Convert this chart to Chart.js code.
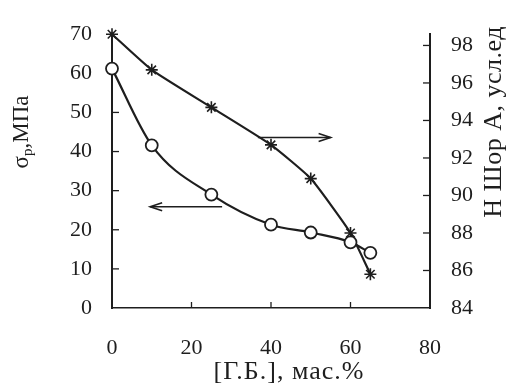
<!DOCTYPE html>
<html>
<head>
<meta charset="utf-8">
<script src="https://cdn.jsdelivr.net/npm/chart.js@4/dist/chart.umd.min.js"></script>
<style>
html, body { margin: 0; background: #fff; }
#wrap { width: 508px; height: 391px; }
</style>
</head>
<body>
<div id="wrap"><canvas id="myChart"></canvas></div>
<script>
// содержание Г.Б., мас.%
const gb = [0, 10, 25, 40, 50, 60, 65]
// прочность σр, МПа (левая ось)
const sigma = [61.2, 41.6, 29, 21.3, 19.3, 16.8, 14.1]
// твердость по Шору А (правая ось)
const shore = [98.6, 96.7, 94.7, 92.7, 90.9, 88.0, 85.8]

const xTicks = [0, 20, 40, 60, 80]
const leftTicks = [0, 10, 20, 30, 40, 50, 60, 70]
const rightTicks = [84, 86, 88, 90, 92, 94, 96, 98]

// стрелки: [x начало, x конец (острие), y по левой оси]
const arrowShore = [36.7, 55, 43.6]
const arrowSigma = [27.7, 9.6, 25.9]

const ink = '#1e1e1e'
const serif = 'Liberation Serif'

const extras = {
    id: 'extras',
    afterDraw(chart) {
        const { ctx, chartArea: a, scales } = chart
        const x = scales.x, y = scales.y, y2 = scales.y2
        ctx.save()
        ctx.strokeStyle = ink
        ctx.fillStyle = ink
        ctx.lineWidth = 1.3

        // внутренние штрихи
        leftTicks.slice(1, 6).forEach(v => {
            let py = y.getPixelForValue(v)
            ctx.beginPath(); ctx.moveTo(a.left, py); ctx.lineTo(a.left + 7, py); ctx.stroke()
        })
        rightTicks.slice(1).forEach(v => {
            let py = y2.getPixelForValue(v)
            ctx.beginPath(); ctx.moveTo(a.right, py); ctx.lineTo(a.right - 7, py); ctx.stroke()
        })
        xTicks.slice(1, 4).forEach(v => {
            let px = x.getPixelForValue(v)
            ctx.beginPath(); ctx.moveTo(px, a.bottom); ctx.lineTo(px, a.bottom - 6); ctx.stroke()
        })

        // стрелки
        const arrow = (arr) => {
            let x0 = x.getPixelForValue(arr[0])
            let x1 = x.getPixelForValue(arr[1])
            let py = y.getPixelForValue(arr[2])
            let d = Math.sign(x1 - x0)
            ctx.lineWidth = 1.6
            ctx.beginPath(); ctx.moveTo(x0, py); ctx.lineTo(x1, py); ctx.stroke()
            ctx.beginPath()
            ctx.moveTo(x1 - d * 12, py - 4); ctx.lineTo(x1, py); ctx.lineTo(x1 - d * 12, py + 4)
            ctx.stroke()
        }
        arrow(arrowShore)
        arrow(arrowSigma)

        // подписи осей
        ctx.textBaseline = 'middle'
        ctx.textAlign = 'center'
        ctx.font = `26px "${serif}"`
        ctx.letterSpacing = '1px'
        ctx.fillText('[Г.Б.], мас.%', 289, 372)

        // правая ось
        ctx.save()
        ctx.translate(494, 122)
        ctx.rotate(-Math.PI / 2)
        ctx.letterSpacing = '0.5px'
        ctx.fillText('Н Шор А, усл.ед', 0, 0)
        ctx.restore()

        // левая ось с индексом
        ctx.save()
        ctx.translate(22, 132)
        ctx.rotate(-Math.PI / 2)
        ctx.letterSpacing = '0px'
        ctx.textAlign = 'left'
        let big = `23px "${serif}"`, small = `15px "${serif}"`
        ctx.font = big
        let w1 = ctx.measureText('σ').width
        let w3 = ctx.measureText(',МПа').width
        ctx.font = small
        let w2 = ctx.measureText('р').width
        let sx = -(w1 + w2 + w3) / 2
        ctx.font = big
        ctx.fillText('σ', sx, 0)
        ctx.font = small
        ctx.fillText('р', sx + w1, 6)
        ctx.font = big
        ctx.fillText(',МПа', sx + w1 + w2, 0)
        ctx.restore()

        ctx.restore()
    }
}

const tickFont = { family: serif, size: 22 }

let ctx = document.getElementById('myChart').getContext('2d')
let myChart = new Chart(ctx, {
    type: 'line',
    data: {
        datasets: [{
            label: 'σр',
            data: gb.map((v, i) => ({ x: v, y: sigma[i] })),
            yAxisID: 'y',
            borderColor: ink,
            borderWidth: 2.2,
            tension: 0.4,
            cubicInterpolationMode: 'monotone',
            pointStyle: 'circle',
            pointRadius: 6,
            pointBackgroundColor: '#fff',
            pointBorderColor: ink,
            pointBorderWidth: 1.8,
            clip: false
        }, {
            label: 'H',
            data: gb.map((v, i) => ({ x: v, y: shore[i] })),
            yAxisID: 'y2',
            borderColor: ink,
            borderWidth: 2.2,
            tension: 0.15,
            pointStyle: 'star',
            pointRadius: 6,
            pointBorderColor: ink,
            pointBorderWidth: 1.6,
            clip: false
        }]
    },
    options: {
        responsive: true,
        maintainAspectRatio: false,
        animation: false,
        layout: { padding: { top: 20, left: 0, right: 0, bottom: 0 } },
        plugins: {
            legend: { display: false },
            tooltip: { enabled: false }
        },
        scales: {
            x: {
                type: 'linear',
                min: 0, max: 80,
                afterBuildTicks: s => { s.ticks = xTicks.map(v => ({ value: v })) },
                afterFit: s => { s.height = 83 },
                grid: { drawOnChartArea: false, drawTicks: false },
                border: { color: ink, width: 1.5 },
                ticks: { color: ink, font: tickFont, padding: 27 }
            },
            y: {
                position: 'left',
                min: 0, max: 70,
                afterBuildTicks: s => { s.ticks = leftTicks.map(v => ({ value: v })) },
                afterFit: s => { s.width = 112 },
                grid: { drawOnChartArea: false, drawTicks: false },
                border: { color: ink, width: 2 },
                ticks: { color: ink, font: tickFont, padding: 20 }
            },
            y2: {
                position: 'right',
                min: 84, max: 98.6,
                afterBuildTicks: s => { s.ticks = rightTicks.map(v => ({ value: v })) },
                afterFit: s => { s.width = 78 },
                grid: { drawOnChartArea: false, drawTicks: false },
                border: { color: ink, width: 2 },
                ticks: { color: ink, font: tickFont, padding: 21 }
            }
        }
    },
    plugins: [extras]
})
</script>
</body>
</html>
